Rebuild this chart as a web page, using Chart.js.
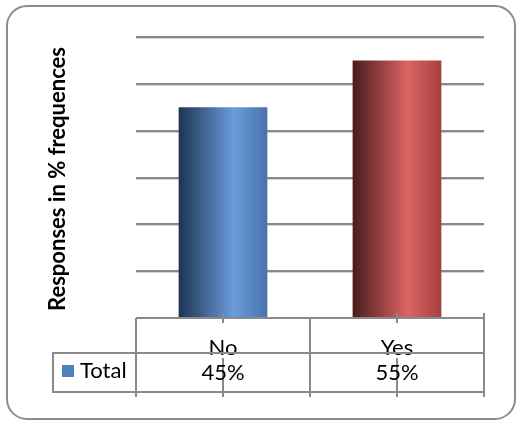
<!DOCTYPE html>
<html>
<head>
<meta charset="utf-8">
<script src="https://cdn.jsdelivr.net/npm/chart.js@4.4.1/dist/chart.umd.min.js"></script>
<style>
html,body{margin:0;padding:0;background:#fff;}
#wrap{position:relative;width:519px;height:424px;}
</style>
</head>
<body>
<div id="wrap"><canvas id="c" width="519" height="424"></canvas></div>
<script>
const categories = ["No", "Yes"];
const seriesName = "Total";
const values = [45, 55];
const valueLabels = ["45%", "55%"];
const yTicks = {min: 0, max: 60, step: 10};
const axisTitle = "Responses in % frequences";

const gradStops = [
  [[0, "#1e3453"], [0.62, "#6a9bdb"], [1, "#4873ab"]],
  [[0, "#4a1b1c"], [0.62, "#dd6464"], [1, "#a5413f"]]
];
const BAR_PCT = 0.51;

function barFill(ctx) {
  const chart = ctx.chart;
  if (!chart.chartArea) return "#4f81bd";
  const xs = chart.scales.x;
  const cx = xs.getPixelForValue(ctx.dataIndex);
  const w = xs.width / categories.length * BAR_PCT;
  const g = chart.ctx.createLinearGradient(cx - w / 2, 0, cx + w / 2, 0);
  gradStops[ctx.dataIndex].forEach(s => g.addColorStop(s[0], s[1]));
  return g;
}

const LINE = "#8a8a8a";
const FONT = "Lato, 'Open Sans', sans-serif";

const decor = {
  id: "decor",
  beforeDraw(chart) {
    const c = chart.ctx;
    c.save();
    c.fillStyle = "#fff";
    c.fillRect(0, 0, chart.width, chart.height);
    c.strokeStyle = "#8c8c8c";
    c.lineWidth = 2;
    c.beginPath();
    c.roundRect(7, 6, 508, 413, 20);
    c.stroke();
    const ys = chart.scales.y;
    c.strokeStyle = "#d4d4d4";
    c.lineWidth = 1;
    for (let v = yTicks.min + yTicks.step; v <= yTicks.max; v += yTicks.step) {
      const y = Math.round(ys.getPixelForValue(v)) + 1.5;
      c.beginPath();
      c.moveTo(chart.chartArea.left, y);
      c.lineTo(chart.chartArea.right, y);
      c.stroke();
    }
    c.restore();
  },
  afterDraw(chart) {
    const c = chart.ctx;
    const xs = chart.scales.x;
    const area = chart.chartArea;
    const L = area.left, R = area.right, B = area.bottom;
    const rowTop = B + 35, rowBot = B + 74, legL = 53, lineEnd = B + 79;
    c.save();
    c.strokeStyle = LINE;
    c.lineWidth = 2;
    const seg = (x1, y1, x2, y2) => { c.beginPath(); c.moveTo(x1, y1); c.lineTo(x2, y2); c.stroke(); };
    seg(L, B, R, B);
    seg(legL, rowTop, R, rowTop);
    seg(legL, rowBot, R, rowBot);
    seg(legL, rowTop - 1, legL, rowBot + 1);
    const n = categories.length;
    const cw = (R - L) / n;
    for (let i = 0; i <= n; i++) {
      const x = L + i * cw;
      seg(x, i === n ? B - 5 : B, x, lineEnd);
    }
    for (let i = 0; i < n; i++) {
      const x = xs.getPixelForValue(i);
      seg(x, B - 5, x, B + 5);
      seg(x, rowTop + 5, x, lineEnd);
    }
    c.fillStyle = "#000";
    c.font = "22px " + FONT;
    c.textAlign = "center";
    c.textBaseline = "middle";
    for (let i = 0; i < n; i++) {
      const x = xs.getPixelForValue(i);
      c.fillText(categories[i], x, B + 30);
      c.fillText(valueLabels[i], x, B + 55);
    }
    seg(L, rowTop, R, rowTop);
    c.fillStyle = "#4f81bd";
    c.fillRect(62, rowTop + 12, 12, 12);
    c.fillStyle = "#000";
    c.textAlign = "left";
    c.fillText(seriesName, 80, rowTop + 18);
    c.translate(58, 179);
    c.rotate(-Math.PI / 2);
    c.textAlign = "center";
    c.font = "bold 22px " + FONT;
    c.fillText(axisTitle, 0, 0);
    c.restore();
  }
};

new Chart(document.getElementById("c"), {
  type: "bar",
  data: {
    labels: categories,
    datasets: [{
      label: seriesName,
      data: values,
      backgroundColor: barFill,
      borderWidth: 0,
      categoryPercentage: 1,
      barPercentage: BAR_PCT
    }]
  },
  options: {
    responsive: false,
    devicePixelRatio: 1,
    animation: false,
    layout: {padding: {left: 136, right: 35, top: 37, bottom: 106}},
    plugins: {legend: {display: false}, tooltip: {enabled: false}},
    scales: {
      x: {
        display: false
      },
      y: {
        min: yTicks.min, max: yTicks.max,
        ticks: {display: false, stepSize: yTicks.step},
        grid: {color: LINE, lineWidth: 2, drawTicks: false},
        border: {display: false}
      }
    }
  },
  plugins: [decor]
});
</script>
</body>
</html>
